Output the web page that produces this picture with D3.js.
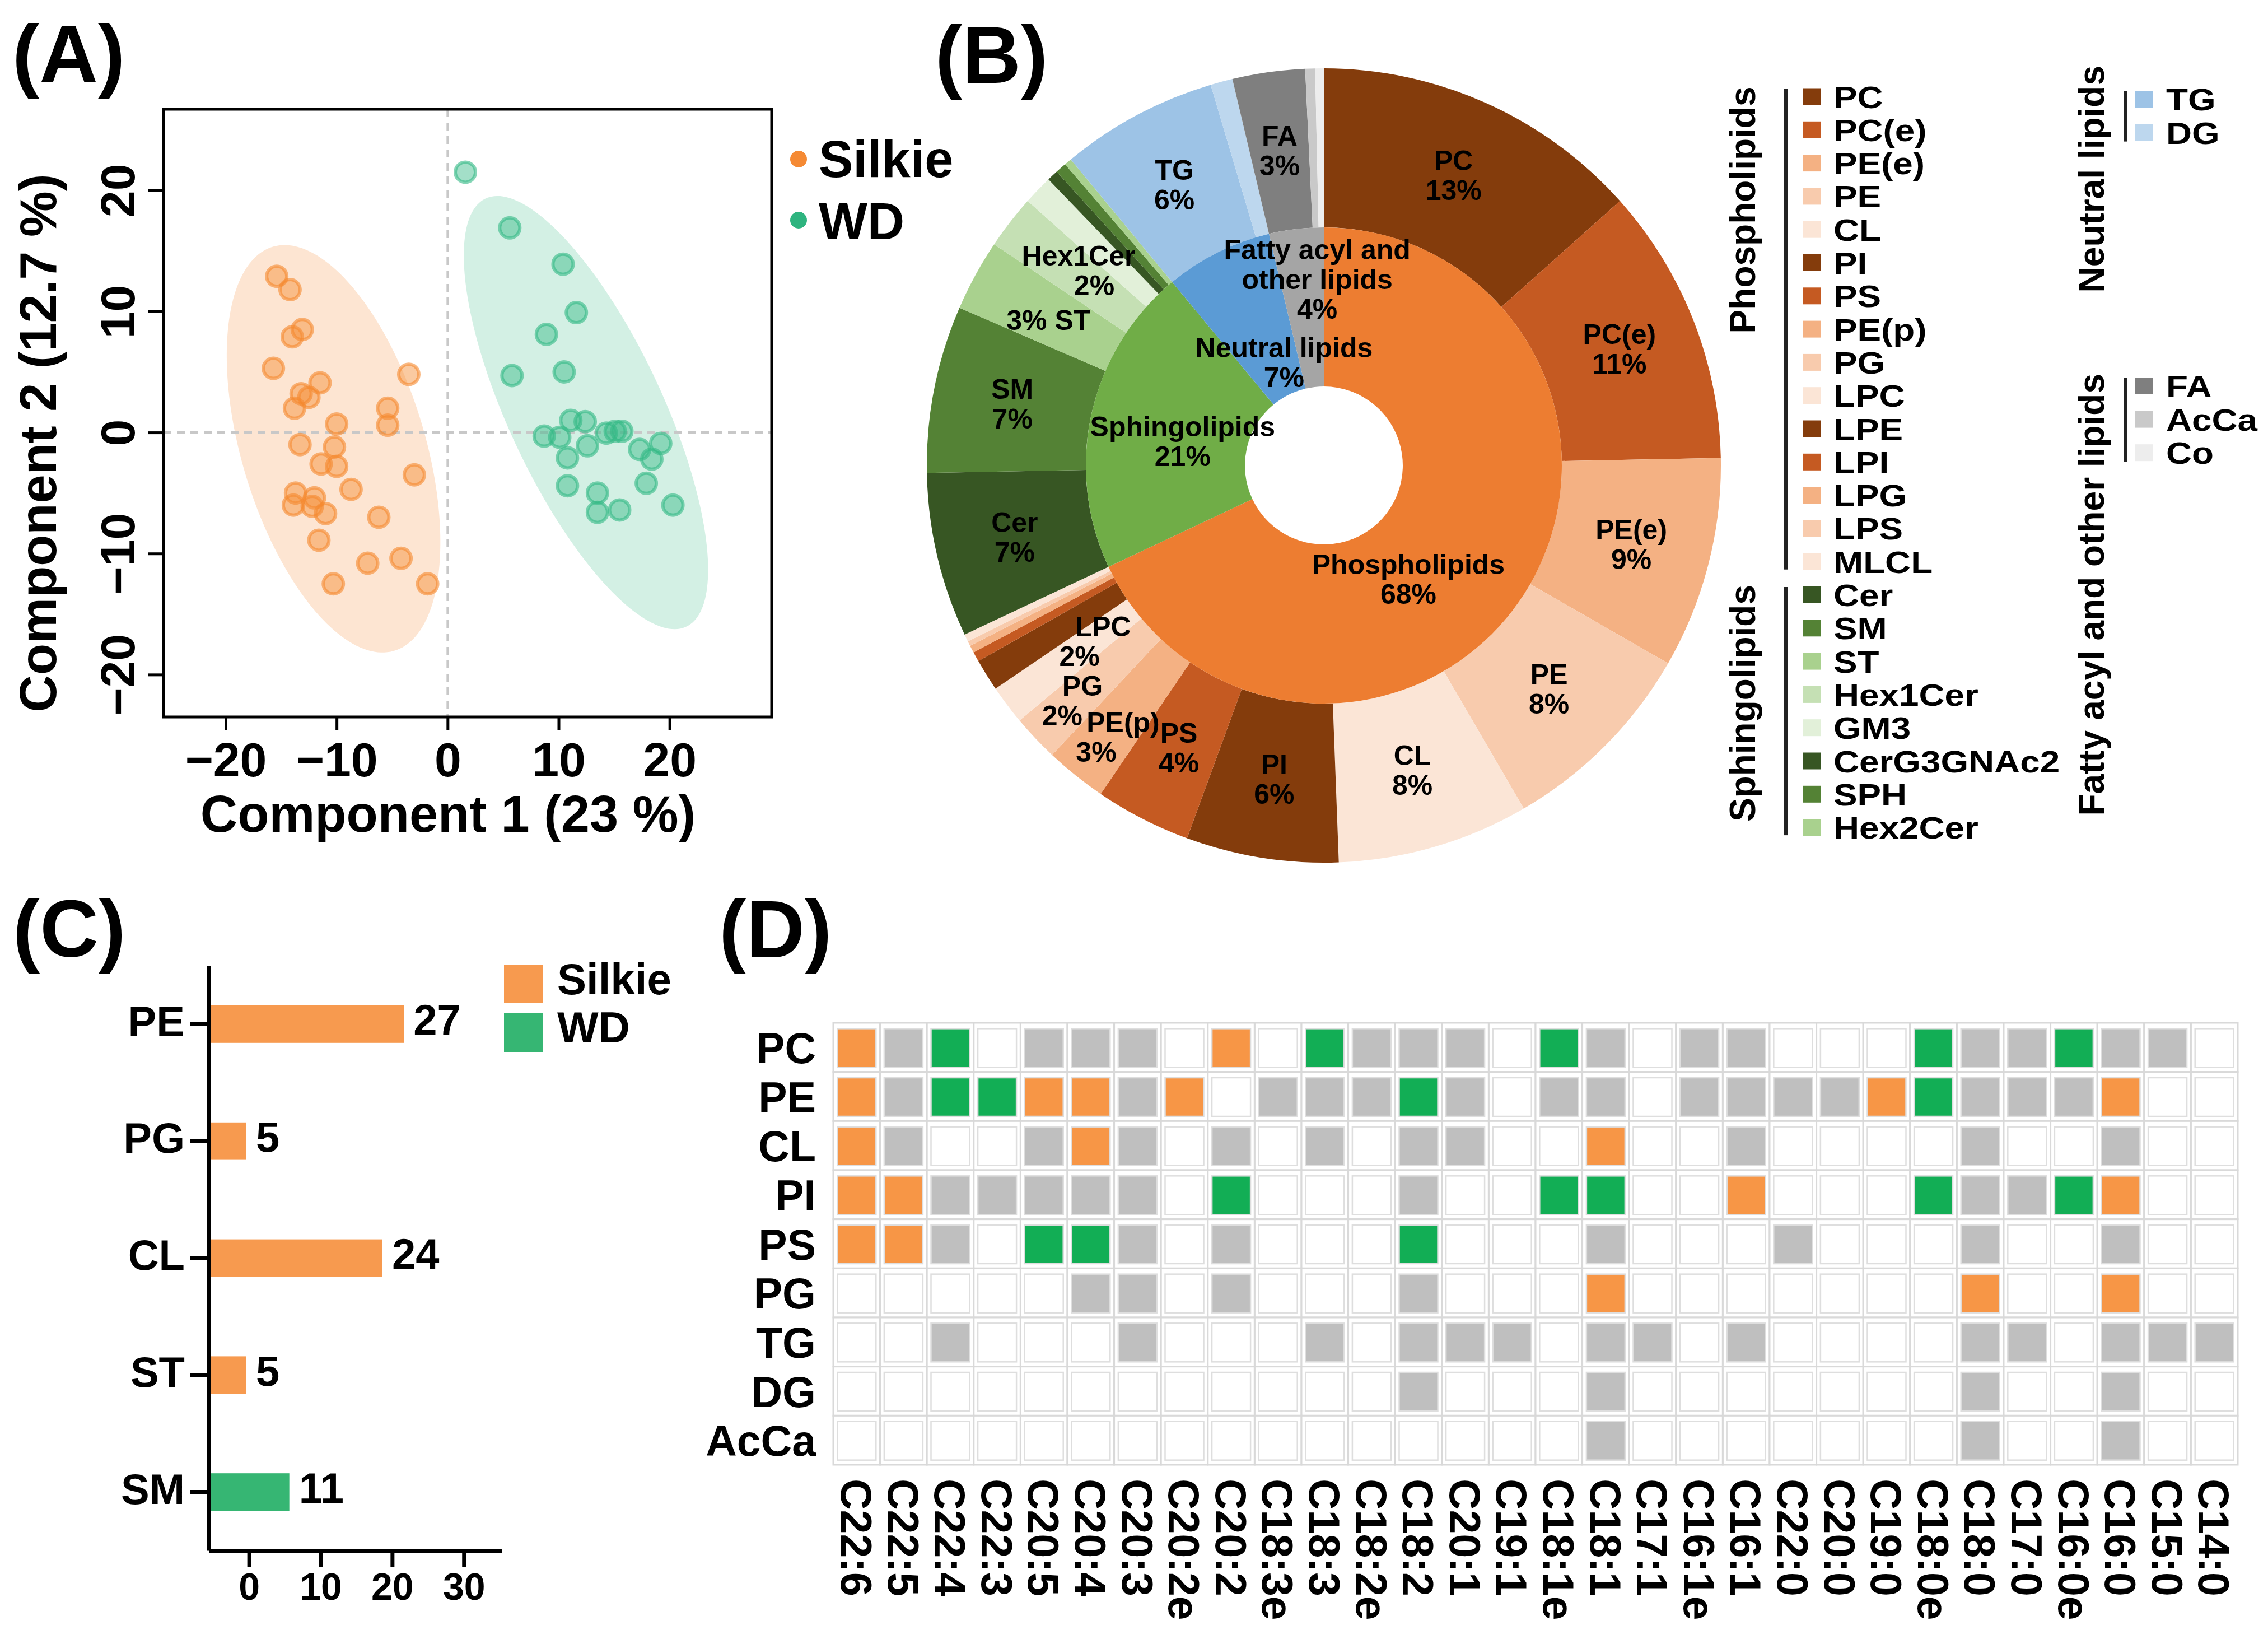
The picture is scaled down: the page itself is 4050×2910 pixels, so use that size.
<!DOCTYPE html>
<html>
<head>
<meta charset="utf-8">
<script src="https://cdn.jsdelivr.net/npm/d3@7"></script>
<style>
  body { margin: 0; background: #fff; }
  svg { display: block; font-family: "Liberation Sans", Arial, Helvetica, sans-serif; font-weight: bold; }
</style>
</head>
<body>
<div id="fig"></div>
<script>
// ---------- (A) score plot ----------
var silkieX = [-15.4, -14.2, -13.1, -14.0, -15.7, -11.5, -13.2, -12.5, -13.8, -10.0, -5.4, -5.4, -3.5, -13.3, -10.2,
               -11.4, -10.0, -3.0, -8.7, -13.7, -13.9, -12.0, -12.2, -11.0, -6.2, -11.6, -7.2, -4.2, -10.3, -1.8];
var silkieY = [12.9, 11.8, 8.5, 7.9, 5.3, 4.1, 3.2, 2.9, 2.0, 0.7, 2.0, 0.6, 4.8, -1.0, -1.2,
               -2.6, -2.8, -3.5, -4.7, -5.0, -6.0, -5.4, -6.1, -6.7, -7.0, -8.9, -10.8, -10.4, -12.5, -12.5];
var wdX = [1.6, 5.6, 10.4, 11.6, 8.9, 5.8, 10.5, 11.1, 12.4, 8.7, 10.1, 14.3, 15.1, 15.7, 10.8,
           12.6, 17.3, 19.2, 18.4, 10.8, 17.9, 13.5, 13.5, 15.5, 20.3];
var wdY = [21.5, 16.9, 13.9, 9.9, 8.1, 4.7, 5.0, 1.0, 0.9, -0.3, -0.4, -0.05, 0.1, 0.1, -2.1,
           -1.1, -1.4, -0.9, -2.2, -4.4, -4.2, -5.0, -6.6, -6.4, -6.0];
var scoreTicks = [-20, -10, 0, 10, 20];

// ---------- (B) lipid composition, % of total ----------
var phosphoClasses = ['PC', 'PC(e)', 'PE(e)', 'PE', 'CL', 'PI', 'PS', 'PE(p)', 'PG', 'LPC', 'LPE', 'LPI', 'LPG', 'LPS', 'MLCL'];
var phosphoPct = [13.4, 11.3, 8.6, 8.3, 7.8, 6.2, 3.9, 2.5, 1.9, 1.6, 1.3, 0.4, 0.3, 0.2, 0.3];
var sphingoClasses = ['Cer', 'SM', 'ST', 'Hex1Cer', 'GM3', 'CerG3GNAc2', 'SPH', 'Hex2Cer'];
var sphingoPct = [6.7, 6.8, 2.9, 2.2, 1.2, 0.45, 0.45, 0.3];
var neutralClasses = ['TG', 'DG'];
var neutralPct = [6.4, 0.9];
var fattyClasses = ['FA', 'AcCa', 'Co'];
var fattyPct = [2.95, 0.4, 0.35];
var categoryNames = ['Phospholipids', 'Sphingolipids', 'Neutral lipids', 'Fatty acyl and other lipids'];

// ---------- (C) differential counts ----------
var diffClasses = ['PE', 'PG', 'CL', 'ST', 'SM'];
var diffCounts = [27, 5, 24, 5, 11];
var diffGroup = ['Silkie', 'Silkie', 'Silkie', 'Silkie', 'WD'];
var diffTicks = [0, 10, 20, 30];

// ---------- (D) fatty acyl chains per class ----------
// o = higher in Silkie, w = higher in WD, x = detected, . = not detected
var chainNames = ['C22:6', 'C22:5', 'C22:4', 'C22:3', 'C20:5', 'C20:4', 'C20:3', 'C20:2e', 'C20:2', 'C18:3e',
                  'C18:3', 'C18:2e', 'C18:2', 'C20:1', 'C19:1', 'C18:1e', 'C18:1', 'C17:1', 'C16:1e', 'C16:1',
                  'C22:0', 'C20:0', 'C19:0', 'C18:0e', 'C18:0', 'C17:0', 'C16:0e', 'C16:0', 'C15:0', 'C14:0'];
var chainClasses = ['PC', 'PE', 'CL', 'PI', 'PS', 'PG', 'TG', 'DG', 'AcCa'];
var chainPC   = 'oxw.xxx.o.wxxx.wx.xx...wxxwxx.';
var chainPE   = 'oxwwooxo.xxxwx.xx.xxxxowxxxo..';
var chainCL   = 'ox..xox.x.x.xx..o..x....x..x..';
var chainPI   = 'ooxxxxx.w...x..ww..o...wxxwo..';
var chainPS   = 'oox.wwx.x...w...x...x...x..x..';
var chainPG   = '.....xx.x...x...o.......o..o..';
var chainTG   = '..x...x...x.xxx.xx.x....xx.xxx';
var chainDG   = '............x...x.......x..x..';
var chainAcCa = '................x.......x..x..';
var chainRows = [chainPC, chainPE, chainCL, chainPI, chainPS, chainPG, chainTG, chainDG, chainAcCa];

// ---------- styles ----------
var sliceColor = {
  'PC': '#843C0C', 'PC(e)': '#C55A22', 'PE(e)': '#F4B183', 'PE': '#F8CBAD', 'CL': '#FBE5D6',
  'PI': '#843C0C', 'PS': '#C55A22', 'PE(p)': '#F4B183', 'PG': '#F8CBAD', 'LPC': '#FBE5D6',
  'LPE': '#843C0C', 'LPI': '#C55A22', 'LPG': '#F4B183', 'LPS': '#F8CBAD', 'MLCL': '#FBE5D6',
  'Cer': '#375623', 'SM': '#548235', 'ST': '#A9D18E', 'Hex1Cer': '#C5E0B4', 'GM3': '#E2F0D9',
  'CerG3GNAc2': '#375623', 'SPH': '#548235', 'Hex2Cer': '#A9D18E',
  'TG': '#9DC3E6', 'DG': '#BDD7EE', 'FA': '#7F7F7F', 'AcCa': '#C9C9C9', 'Co': '#EDEDED'
};
var innerColor = ['#ED7D31', '#70AD47', '#5B9BD5', '#A5A5A5'];
var heatColor = { 'o': '#F79646', 'w': '#12AE55', 'x': '#BFBFBF', '.': '#FFFFFF' };

var svg = d3.select('#fig').append('svg').attr('width', 4050).attr('height', 2910);
svg.append('rect').attr('width', 4050).attr('height', 2910).attr('fill', '#fff');

function panelLabel(t, x, y) {
  svg.append('text').attr('x', x).attr('y', y).attr('font-size', 145).attr('fill', '#000').text(t);
}
panelLabel('(A)', 22, 146);
panelLabel('(B)', 1670, 148);
panelLabel('(C)', 23, 1708);
panelLabel('(D)', 1284, 1709);

// ================= (A) =================
var xA = d3.scaleLinear().domain([-25.6, 29.2]).range([292, 1378]);
var yA = d3.scaleLinear().domain([-23.5, 26.7]).range([1280, 195]);
var gA = svg.append('g');

// 95% confidence ellipse from the sample covariance
function ellipsePts(xs, ys) {
  var n = xs.length, mx = d3.mean(xs), my = d3.mean(ys);
  var sxx = d3.sum(xs, function (v) { return (v - mx) * (v - mx); }) / (n - 1);
  var syy = d3.sum(ys, function (v) { return (v - my) * (v - my); }) / (n - 1);
  var sxy = d3.sum(xs.map(function (v, i) { return (v - mx) * (ys[i] - my); })) / (n - 1);
  var tr = sxx + syy, det = sxx * syy - sxy * sxy;
  var disc = Math.sqrt(tr * tr / 4 - det);
  var l1 = tr / 2 + disc, l2 = tr / 2 - disc;
  var ang = Math.atan2(l1 - sxx, sxy);
  var c = Math.sqrt(5.991);
  return d3.range(0, 360, 2).map(function (t) {
    t = t * Math.PI / 180;
    var a = c * Math.sqrt(l1) * Math.cos(t), b = c * Math.sqrt(l2) * Math.sin(t);
    return [mx + a * Math.cos(ang) - b * Math.sin(ang), my + a * Math.sin(ang) + b * Math.cos(ang)];
  });
}
var ell = d3.line().x(function (d) { return xA(d[0]); }).y(function (d) { return yA(d[1]); }).curve(d3.curveLinearClosed);
gA.append('path').attr('d', ell(ellipsePts(silkieX, silkieY))).attr('fill', '#FDE5D2');
gA.append('path').attr('d', ell(ellipsePts(wdX, wdY))).attr('fill', '#D3F0E4');

// zero reference lines
gA.append('line').attr('x1', xA(0)).attr('x2', xA(0)).attr('y1', yA.range()[1]).attr('y2', yA.range()[0])
  .attr('stroke', '#C8C8C8').attr('stroke-width', 4).attr('stroke-dasharray', '14 10');
gA.append('line').attr('x1', xA.range()[0]).attr('x2', xA.range()[1]).attr('y1', yA(0)).attr('y2', yA(0))
  .attr('stroke', '#C8C8C8').attr('stroke-width', 4).attr('stroke-dasharray', '14 10');

function drawPoints(xs, ys, col) {
  gA.append('g').selectAll('circle').data(xs).enter().append('circle')
    .attr('cx', function (d) { return xA(d); })
    .attr('cy', function (d, i) { return yA(ys[i]); })
    .attr('r', 18)
    .attr('fill', col).attr('fill-opacity', 0.45)
    .attr('stroke', col).attr('stroke-opacity', 0.6).attr('stroke-width', 6);
}
drawPoints(silkieX, silkieY, '#F5892F');
drawPoints(wdX, wdY, '#34B986');

gA.append('rect').attr('x', 292).attr('y', 195).attr('width', 1378 - 292).attr('height', 1280 - 195)
  .attr('fill', 'none').attr('stroke', '#000').attr('stroke-width', 5);

var axA = gA.append('g').attr('transform', 'translate(0,1280)')
  .call(d3.axisBottom(xA).tickValues(scoreTicks).tickSize(24).tickPadding(21).tickSizeOuter(0));
var ayA = gA.append('g').attr('transform', 'translate(292,0)')
  .call(d3.axisLeft(yA).tickValues(scoreTicks).tickSize(28).tickSizeOuter(0));
[axA, ayA].forEach(function (a) {
  a.select('.domain').remove();
  a.selectAll('line').attr('stroke', '#000').attr('stroke-width', 5);
  a.selectAll('text').attr('font-size', 86).attr('font-family', null).attr('font-weight', 'bold').attr('fill', '#000');
});
ayA.selectAll('text').attr('x', null).attr('dy', null).attr('text-anchor', 'middle')
  .attr('transform', 'translate(-52,0) rotate(-90)');

gA.append('text').attr('x', 800).attr('y', 1485).attr('text-anchor', 'middle').attr('font-size', 92)
  .text('Component 1 (23 %)');
gA.append('text').attr('transform', 'translate(100,791) rotate(-90)').attr('text-anchor', 'middle')
  .attr('font-size', 92).text('Component 2 (12.7 %)');

var legA = [['Silkie', '#F58A34'], ['WD', '#2EB47F']];
legA.forEach(function (d, i) {
  gA.append('circle').attr('cx', 1426).attr('cy', 284 + i * 109).attr('r', 15).attr('fill', d[1]);
  gA.append('text').attr('x', 1462).attr('y', 316 + i * 111).attr('font-size', 92).text(d[0]);
});

// ================= (B) =================
var cx = 2364, cy = 831, holeR = 141, midR = 425, outerR = 709;
var gB = svg.append('g').attr('transform', 'translate(' + cx + ',' + cy + ')');
var outerNames = phosphoClasses.concat(sphingoClasses, neutralClasses, fattyClasses);
var outerValues = phosphoPct.concat(sphingoPct, neutralPct, fattyPct);
var innerValues = [d3.sum(phosphoPct), d3.sum(sphingoPct), d3.sum(neutralPct), d3.sum(fattyPct)];

var pie = d3.pie().sort(null).value(function (d) { return d; });
var outerArcs = pie(outerValues);
var innerArcs = pie(innerValues);
var outerArc = d3.arc().innerRadius(midR).outerRadius(outerR);
var innerArc = d3.arc().innerRadius(holeR).outerRadius(midR);

gB.selectAll('path.outer').data(outerArcs).enter().append('path').attr('class', 'outer')
  .attr('d', outerArc).attr('fill', function (d, i) { return sliceColor[outerNames[i]]; });
gB.selectAll('path.inner').data(innerArcs).enter().append('path').attr('class', 'inner')
  .attr('d', innerArc).attr('fill', function (d, i) { return innerColor[i]; });

function blockLabel(lines, x, y, shifts) {
  var n = lines.length, lh = 53;
  lines.forEach(function (t, k) {
    gB.append('text').attr('x', x + (shifts ? shifts[k] : 0))
      .attr('y', y + (k - (n - 1) / 2) * lh + 17)
      .attr('text-anchor', 'middle').attr('font-size', 50).attr('fill', '#000').text(t);
  });
}
var outerShown = ['PC', 'PC(e)', 'PE(e)', 'PE', 'CL', 'PI', 'PS', 'PE(p)', 'PG', 'LPC', 'Cer', 'SM', 'ST', 'Hex1Cer', 'TG', 'FA'];
var outerNudge = { 'LPC': [37, -27, 21], 'PG': [-37, 31, 18], 'PE(p)': [-28, 43, 24], 'Hex1Cer': [24, 0, -14], 'ST': [6, 13, 0] };
outerArcs.forEach(function (a, i) {
  var name = outerNames[i];
  if (outerShown.indexOf(name) < 0) return;
  var c = outerArc.centroid(a), nd = outerNudge[name] || [0, 0, 0];
  var pct = Math.round(outerValues[i]) + '%';
  if (name === 'ST') blockLabel([pct + ' ' + name], c[0] + nd[0], c[1] + nd[1]);
  else blockLabel([name, pct], c[0] + nd[0], c[1] + nd[1], [nd[2], -nd[2]]);
});
var innerLines = [['Phospholipids'], ['Sphingolipids'], ['Neutral lipids'], ['Fatty acyl and', 'other lipids']];
var innerNudge = [[-88, 52], [24, 19], [55, 70], [21, -51]];
innerArcs.forEach(function (a, i) {
  var c = innerArc.centroid(a);
  blockLabel(innerLines[i].concat([Math.round(innerValues[i]) + '%']), c[0] + innerNudge[i][0], c[1] + innerNudge[i][1]);
});

// legend of (B): wide, tightly stacked entries
var gL = svg.append('g');
var rowY = function (k) { return 172.5 + k * 59.3; };
function legendEntry(n, sqX, y) {
  gL.append('rect').attr('x', sqX).attr('y', y - 15).attr('width', 32).attr('height', 30).attr('fill', sliceColor[n]);
  gL.append('text').attr('transform', 'translate(' + (sqX + 55) + ',' + (y + 20) + ') scale(1.16,1)')
    .attr('font-size', 55).text(n);
}
function legendColumn(names, k0, sqX, barX, titleX, title) {
  names.forEach(function (n, j) { legendEntry(n, sqX, rowY(k0 + j)); });
  var top = rowY(k0) - 14, bot = rowY(k0 + names.length - 1) + 14;
  gL.append('rect').attr('x', barX).attr('y', top).attr('width', 7).attr('height', bot - top).attr('fill', '#222');
  gL.append('text').attr('transform', 'translate(' + titleX + ',' + (top - 4) + ') rotate(-90)')
    .attr('text-anchor', 'end').attr('font-size', 64).text(title);
}
legendColumn(phosphoClasses, 0, 3219, 3186, 3134, categoryNames[0]);
legendColumn(sphingoClasses, phosphoClasses.length, 3219, 3186, 3134, categoryNames[1]);
// right-hand columns use their own row positions
function legendColumn2(names, y0, title, titleTop) {
  names.forEach(function (n, j) { legendEntry(n, 3813, y0 + j * 59.6); });
  var top = y0 - 14, bot = y0 + (names.length - 1) * 59.6 + 16;
  gL.append('rect').attr('x', 3792).attr('y', top).attr('width', 7).attr('height', bot - top).attr('fill', '#222');
  gL.append('text').attr('transform', 'translate(3757,' + titleTop + ') rotate(-90)')
    .attr('text-anchor', 'end').attr('font-size', 64).text(title);
}
legendColumn2(neutralClasses, 177, categoryNames[2], 117);
legendColumn2(fattyClasses, 689, categoryNames[3], 667);

// ================= (C) =================
var gC = svg.append('g');
var xC = d3.scaleLinear().domain([-5.6, 35.3]).range([373, 896]);
var yC = d3.scaleBand().domain(diffClasses).range([1724, 2768]).paddingInner(0.68).paddingOuter(0.34);
var groupColor = { 'Silkie': '#F79A4F', 'WD': '#36B673' };

gC.selectAll('rect.bar').data(diffCounts).enter().append('rect').attr('class', 'bar')
  .attr('x', xC.range()[0] + 3)
  .attr('y', function (d, i) { return yC(diffClasses[i]); })
  .attr('width', function (d) { return xC(d) - xC(0); })
  .attr('height', yC.bandwidth())
  .attr('fill', function (d, i) { return groupColor[diffGroup[i]]; });
gC.selectAll('text.val').data(diffCounts).enter().append('text').attr('class', 'val')
  .attr('x', function (d) { return xC.range()[0] + 3 + xC(d) - xC(0) + 17; })
  .attr('y', function (d, i) { return yC(diffClasses[i]) + yC.bandwidth() / 2 + 19; })
  .attr('font-size', 76).text(function (d) { return d; });

var axC = gC.append('g').attr('transform', 'translate(0,2768)')
  .call(d3.axisBottom(xC).tickValues(diffTicks).tickSize(30).tickPadding(10).tickSizeOuter(0));
var ayC = gC.append('g').attr('transform', 'translate(373,0)')
  .call(d3.axisLeft(yC).tickSize(33).tickPadding(10).tickSizeOuter(0));
[axC, ayC].forEach(function (a) {
  a.select('.domain').attr('stroke', '#000').attr('stroke-width', 7);
  a.selectAll('line').attr('stroke', '#000').attr('stroke-width', 7);
  a.selectAll('text').attr('font-family', null).attr('font-weight', 'bold').attr('fill', '#000');
});
axC.selectAll('text').attr('font-size', 68);
ayC.selectAll('text').attr('font-size', 76).attr('dy', '0.28em');

var legC = ['Silkie', 'WD'];
legC.forEach(function (g, i) {
  gC.append('rect').attr('x', 900).attr('y', 1722 + i * 87).attr('width', 69).attr('height', 69).attr('fill', groupColor[g]);
  gC.append('text').attr('x', 995).attr('y', 1775 + i * 86).attr('font-size', 78).text(g);
});

// ================= (D) =================
var gD = svg.append('g');
var xD = d3.scaleBand().domain(chainNames).range([1488, 3996]);
var yD = d3.scaleBand().domain(chainClasses).range([1826, 2615]);
var cells = [];
chainRows.forEach(function (row, r) {
  row.split('').forEach(function (code, c) {
    cells.push({ cls: chainClasses[r], chain: chainNames[c], code: code });
  });
});
gD.selectAll('rect.cell').data(cells).enter().append('rect').attr('class', 'cell')
  .attr('x', function (d) { return xD(d.chain); }).attr('y', function (d) { return yD(d.cls); })
  .attr('width', xD.bandwidth()).attr('height', yD.bandwidth())
  .attr('fill', '#fff').attr('stroke', '#D9D9D9').attr('stroke-width', 3);
var sq = 69;
gD.selectAll('rect.mark').data(cells).enter().append('rect').attr('class', 'mark')
  .attr('x', function (d) { return xD(d.chain) + (xD.bandwidth() - sq) / 2; })
  .attr('y', function (d) { return yD(d.cls) + (yD.bandwidth() - sq) / 2 + 1; })
  .attr('width', sq).attr('height', sq)
  .attr('fill', function (d) { return heatColor[d.code]; })
  .attr('stroke', '#DEDEDE').attr('stroke-width', 2.5);

gD.selectAll('text.row').data(chainClasses).enter().append('text').attr('class', 'row')
  .attr('x', 1457).attr('y', function (d) { return yD(d) + yD.bandwidth() / 2 + 28; })
  .attr('text-anchor', 'end').attr('font-size', 77).text(function (d) { return d; });
gD.selectAll('text.col').data(chainNames).enter().append('text').attr('class', 'col')
  .attr('transform', function (d) { return 'translate(' + (xD(d) + xD.bandwidth() / 2) + ',2640) rotate(90)'; })
  .attr('dy', '0.36em').attr('font-size', 77).text(function (d) { return d; });
</script>
</body>
</html>
